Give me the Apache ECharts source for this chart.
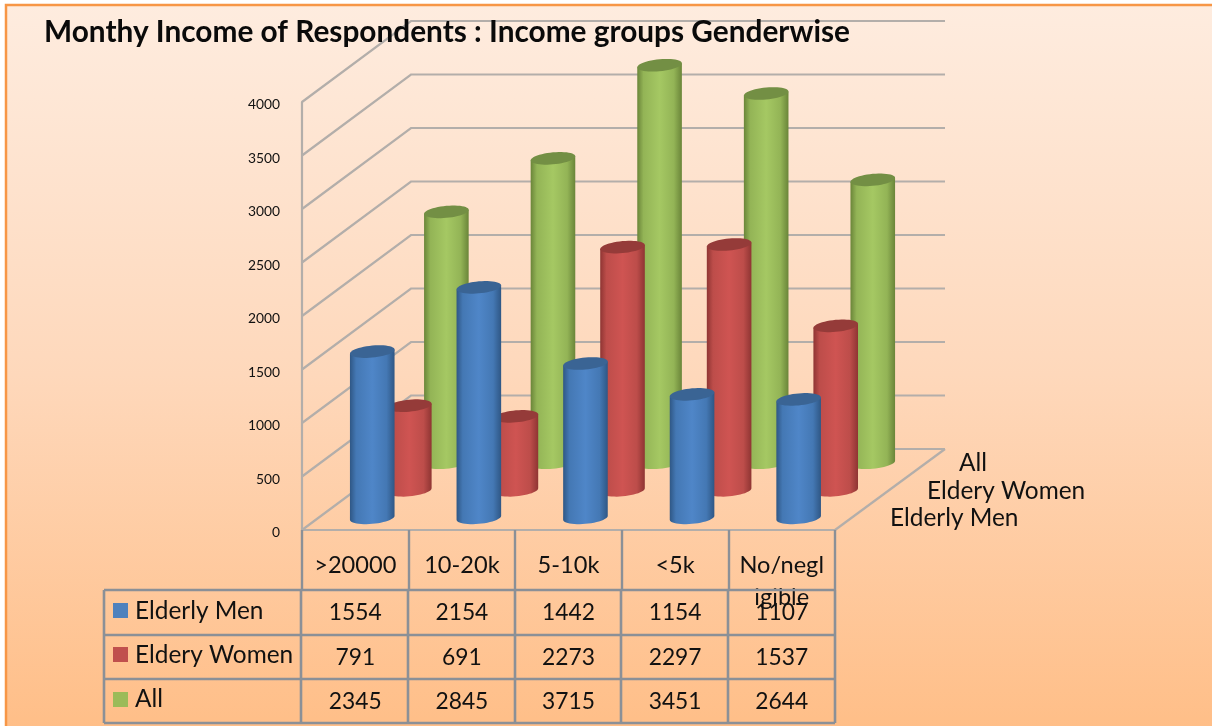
<!DOCTYPE html>
<html>
<head>
<meta charset="utf-8">
<style>html,body{margin:0;padding:0;background:#fff}#c{width:1212px;height:726px}</style>
<script src="https://cdn.jsdelivr.net/npm/echarts@6/dist/echarts.min.js"></script>
</head>
<body>
<div id="c"></div>
<script>
var categories = [">20000", "10-20k", "5-10k", "<5k", "No/negl\nigible"];
var seriesNames = ["Elderly Men", "Eldery Women", "All"];
var elderlyMen = [1554, 2154, 1442, 1154, 1107];
var elderyWomen = [791, 691, 2273, 2297, 1537];
var allRespondents = [2345, 2845, 3715, 3451, 2644];
var valueTicks = [0, 500, 1000, 1500, 2000, 2500, 3000, 3500, 4000];

var FONT = 'Lato, "Open Sans", sans-serif';
var INK = '#111111';
var LINE = '#b3aeaa';
var TABLE = '#8b9097';
var DEPTH_X = 109, DEPTH_Y = -81;
var RX = 22.3, RY = 6, TILT = -0.09, SHIFT_X = 0.6;
var rowLines = [590, 635, 679, 723];
var rowText = [613, 658, 702];
var rowLegend = [611, 655, 699];
var swatchTop = [603, 647, 692];
var depthLabels = [[890, 518], [927, 491], [959, 463]];
var looks = [
  {depth: 0.15, edge: '#2f5785', mid: '#4478b4', light: '#4f86c8', top: '#3a6494'},
  {depth: 0.49, edge: '#8f3533', mid: '#bd4d4a', light: '#cf5452', top: '#953b39'},
  {depth: 0.83, edge: '#6a8539', mid: '#93b456', light: '#a5c863', top: '#738f44'}
];
var swatches = ['#4f81bd', '#c0504d', '#9bbb59'];
var values = [elderlyMen, elderyWomen, allRespondents];

function cylinderItem(look) {
  return function (params, api) {
    var p0 = api.coord([api.value(0), 0]);
    var p1 = api.coord([api.value(0), api.value(1)]);
    var cx = p0[0] + look.depth * DEPTH_X + SHIFT_X;
    var by = p0[1] + look.depth * DEPTH_Y;
    var ty = p1[1] + look.depth * DEPTH_Y;
    var body = [], cap = [], i, t, x;
    for (i = 0; i <= 24; i++) {
      t = Math.PI * i / 24;
      x = RX * Math.cos(t);
      body.push([cx + x, by + RY * Math.sin(t) + x * TILT]);
    }
    body.push([cx - RX, ty - RX * TILT], [cx + RX, ty + RX * TILT]);
    for (i = 0; i < 48; i++) {
      t = 2 * Math.PI * i / 48;
      x = RX * Math.cos(t);
      cap.push([cx + x, ty + RY * Math.sin(t) + x * TILT]);
    }
    var fill = {
      type: 'linear', x: 0, y: 0, x2: 1, y2: 0,
      colorStops: [
        {offset: 0, color: look.edge}, {offset: 0.14, color: look.mid},
        {offset: 0.5, color: look.light}, {offset: 0.82, color: look.mid},
        {offset: 1, color: look.edge}
      ]
    };
    return {type: 'group', children: [
      {type: 'polygon', shape: {points: body}, style: {fill: fill}},
      {type: 'polygon', shape: {points: cap}, style: {fill: look.top}}
    ]};
  };
}

function wallItem(params, api) {
  var v = api.value(1);
  var a = api.coord([0, v]);
  var e = api.coord([categories.length - 1, v]);
  var band = api.size([1, 0])[0];
  var xl = a[0] - band / 2, xr = e[0] + band / 2;
  return {type: 'polyline', shape: {points: [
    [xl, a[1]], [xl + DEPTH_X, a[1] + DEPTH_Y], [xr + DEPTH_X + 1, a[1] + DEPTH_Y]
  ]}, style: {fill: null, stroke: LINE, lineWidth: 2.2}};
}

function floorEdge(params, api) {
  var e = api.coord([categories.length - 1, 0]);
  var xr = e[0] + api.size([1, 0])[0] / 2;
  return {type: 'line', shape: {x1: xr, y1: e[1], x2: xr + DEPTH_X + 1, y2: e[1] + DEPTH_Y},
    style: {stroke: LINE, lineWidth: 2.2}};
}

function tableItem(params, api) {
  var c = api.value(0), r = api.value(2);
  var x = api.coord([c, 0])[0];
  return {type: 'text', style: {text: String(api.value(1)), x: x, y: rowText[r], align: 'center',
    verticalAlign: 'middle', font: '22.8px ' + FONT, fill: INK}};
}

function tick(v) { return [0, v]; }
var cells = [];
values.forEach(function (row, r) {
  row.forEach(function (v, c) { cells.push([c, v, r]); });
});

var graphics = [{
  type: 'rect', z: -10, silent: true,
  shape: {x: 6, y: 5, width: 1220, height: 740},
  style: {
    fill: {type: 'linear', x: 0, y: 0, x2: 0, y2: 1, colorStops: [
      {offset: 0, color: '#feecdf'}, {offset: 0.5, color: '#fed8bb'}, {offset: 1, color: '#ffbd85'}
    ]},
    stroke: '#f79646', lineWidth: 2.5
  }
}];
var tl = 104, tr = 835;
rowLines.forEach(function (y) {
  graphics.push({type: 'line', silent: true, z: 5, shape: {x1: tl, y1: y, x2: tr, y2: y},
    style: {stroke: TABLE, lineWidth: 2.6}});
});
[104, 301, 408, 515, 621, 728, 835].forEach(function (x) {
  graphics.push({type: 'line', silent: true, z: 5, shape: {x1: x, y1: rowLines[0], x2: x, y2: rowLines[3]},
    style: {stroke: TABLE, lineWidth: 2.6}});
});
seriesNames.forEach(function (n, i) {
  graphics.push({type: 'rect', silent: true, z: 6, shape: {x: 113, y: swatchTop[i], width: 15, height: 15},
    style: {fill: swatches[i]}});
  graphics.push({type: 'text', silent: true, z: 6, style: {text: n, x: 135, y: rowLegend[i],
    verticalAlign: 'middle', font: '24.4px ' + FONT, fill: INK}});
  graphics.push({type: 'text', silent: true, z: 6, style: {text: n, x: depthLabels[i][0], y: depthLabels[i][1],
    verticalAlign: 'middle', font: '24.4px ' + FONT, fill: INK}});
});

var series = [
  {type: 'custom', z: 2, renderItem: wallItem, data: valueTicks.map(tick), silent: true},
  {type: 'custom', z: 2, renderItem: floorEdge, data: [[0, 0]], silent: true}
];
[2, 1, 0].forEach(function (s) {
  series.push({
    name: seriesNames[s], type: 'custom', z: 5 + (2 - s), renderItem: cylinderItem(looks[s]),
    data: values[s].map(function (v, c) { return [c, v]; })
  });
});
series.push({type: 'custom', z: 9, renderItem: tableItem, data: cells, silent: true});

var chart = echarts.init(document.getElementById('c'), null, {renderer: 'canvas'});
chart.setOption({
  animation: false,
  textStyle: {fontFamily: FONT},
  title: {
    text: 'Monthy Income of Respondents : Income groups Genderwise',
    left: 39, top: 12,
    textStyle: {fontFamily: FONT, fontSize: 29.8, fontWeight: 'bold', color: '#0a0a0a'}
  },
  graphic: graphics,
  grid: {left: 302, top: 102, width: 533, height: 428, containLabel: false},
  xAxis: {
    type: 'category', data: categories, boundaryGap: true,
    axisLine: {show: true, lineStyle: {color: LINE, width: 2.2}},
    axisTick: {show: true, length: 60, lineStyle: {color: TABLE, width: 2.4}},
    axisLabel: {interval: 0, margin: 19, color: INK, fontFamily: FONT, fontSize: 23.6, lineHeight: 32, verticalAlign: 'top'},
    splitLine: {show: false}, z: 3
  },
  yAxis: {
    type: 'value', min: 0, max: 4000, interval: 500,
    axisLine: {show: true, lineStyle: {color: LINE, width: 2.2}},
    axisTick: {show: false},
    axisLabel: {margin: 22, color: INK, fontFamily: FONT, fontSize: 13.8, verticalAlign: 'top', lineHeight: 6,
      formatter: function (v) { return String(v); }},
    splitLine: {show: false}
  },
  series: series
});
</script>
</body>
</html>
